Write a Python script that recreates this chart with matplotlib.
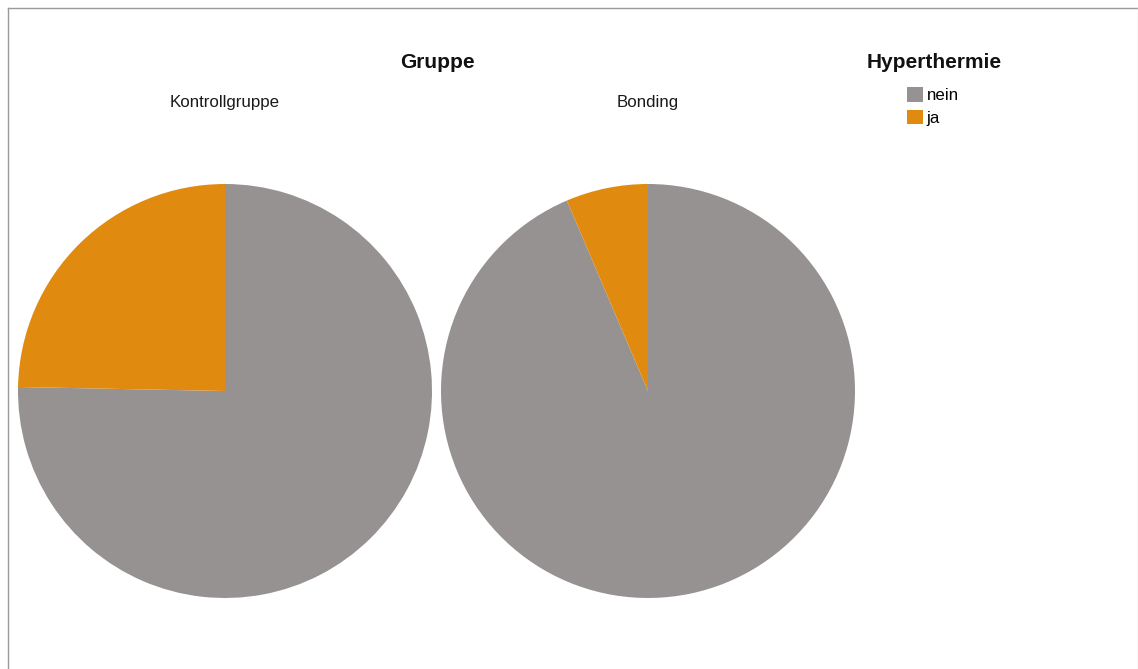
import matplotlib.pyplot as plt
from matplotlib.lines import Line2D
from matplotlib.patches import Patch

plt.rcParams['font.family'] = ['Liberation Sans', 'DejaVu Sans']

# counts per group, order: nein, ja
groups = ["Kontrollgruppe", "Bonding"]
categories = ["nein", "ja"]
nein_counts = [61, 73]
ja_counts = [20, 5]
colors = ["#969291", "#e08a10"]

W, H = 1138, 669
fig = plt.figure(figsize=(W / 100, H / 100), dpi=100)
fig.patch.set_facecolor("white")


def px_axes(x0, y0, w, h):
    # axes placed with pixel coordinates measured from the top-left
    return fig.add_axes([x0 / W, 1 - (y0 + h) / H, w / W, h / H])


radius_px = 207
centers = [(225, 391), (648, 391)]
for name, cx_cy, nein, ja in zip(groups, centers, nein_counts, ja_counts):
    cx, cy = cx_cy
    ax = px_axes(cx - radius_px, cy - radius_px, 2 * radius_px, 2 * radius_px)
    ax.pie([nein, ja], colors=colors, startangle=90, counterclock=False,
           radius=1, wedgeprops=dict(linewidth=0))
    ax.set_xlim(-1, 1)
    ax.set_ylim(-1, 1)
    ax.set_axis_off()
    fig.text(cx / W, 1 - 102 / H, name, ha="center", va="center",
             fontsize=12.2, color="#1a1a1a")

fig.text(437 / W, 1 - 63 / H, "Gruppe", ha="center", va="center",
         fontsize=15, fontweight="bold", color="#111111")
fig.text(934 / W, 1 - 63 / H, "Hyperthermie", ha="center", va="center",
         fontsize=15, fontweight="bold", color="#111111")

handles = [Patch(facecolor=c, edgecolor="none", label=l)
           for c, l in zip(colors, categories)]
fig.legend(handles=handles, loc="upper left",
           bbox_to_anchor=(907 / W, 1 - 87 / H), frameon=False,
           fontsize=12.2, handlelength=0.95, handleheight=0.95,
           handletextpad=0.2, labelspacing=0.38, borderpad=0,
           borderaxespad=0)

# thin frame around the chart area
frame_kw = dict(color="#9a9a9a", linewidth=1.0, transform=fig.transFigure)
fig.add_artist(Line2D([7.5 / W, 7.5 / W], [0, 1 - 7.5 / H], **frame_kw))
fig.add_artist(Line2D([7.5 / W, 1137.5 / W], [1 - 7.5 / H, 1 - 7.5 / H],
                      **frame_kw))
fig.add_artist(Line2D([1137.5 / W, 1137.5 / W], [0, 1 - 7.5 / H],
                      color="#dddddd", linewidth=1.0,
                      transform=fig.transFigure))

fig.savefig("out.png", dpi=100, facecolor="white")
